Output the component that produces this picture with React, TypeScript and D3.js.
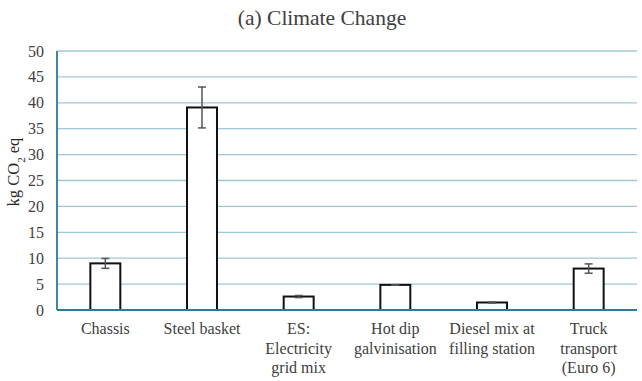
import React from "react";
import * as d3 from "d3";

const categories: string[][] = [
  ["Chassis"],
  ["Steel basket"],
  ["ES:", "Electricity", "grid mix"],
  ["Hot dip", "galvinisation"],
  ["Diesel mix at", "filling station"],
  ["Truck", "transport", "(Euro 6)"],
];
const values = [9.0, 39.1, 2.6, 4.85, 1.45, 8.0];
const errors = [0.95, 3.95, 0.2, 0.05, 0.1, 0.9];
const yTicks = [0, 5, 10, 15, 20, 25, 30, 35, 40, 45, 50];

const W = 642;
const H = 381;
const left = 57;
const right = 637;
const top = 51;
const bottom = 310;
const font = "Liberation Serif, Times New Roman, serif";

export default function App() {
  const x = d3
    .scaleBand<number>()
    .domain(categories.map((_, i) => i))
    .range([left, right])
    .paddingInner(0.69)
    .paddingOuter(0.345);
  const y = d3.scaleLinear().domain([0, 50]).range([bottom, top]);
  const ts = (size: number) => ({ fontFamily: font, fontSize: size + "px" });
  return (
    <svg
      width={W}
      height={H}
      style={{ position: "absolute", left: 0, top: 0, background: "#fff" }}
    >
      <text x={322} y={25} textAnchor="middle" style={ts(21.5)} fill="#404040">
        (a) Climate Change
      </text>
      {yTicks.map((t) =>
        t === 0 ? null : (
          <line
            key={t}
            x1={left}
            x2={right}
            y1={y(t)}
            y2={y(t)}
            stroke="#9fc8d6"
            strokeWidth={1.3}
          />
        )
      )}
      {yTicks.map((t) => (
        <text key={"l" + t} x={44} y={y(t) + 5.5} textAnchor="end" style={ts(16)} fill="#404040">
          {t}
        </text>
      ))}
      <text
        transform={`translate(19,172) rotate(-90)`}
        textAnchor="middle"
        style={ts(16.5)}
        fill="#262626"
      >
        kg CO<tspan baselineShift="sub" style={ts(11)}>2</tspan> eq
      </text>
      {values.map((v, i) => {
        const bx = x(i)!;
        const bw = x.bandwidth();
        const cx = bx + bw / 2;
        const e = errors[i];
        return (
          <g key={i}>
            <rect
              x={bx}
              y={y(v)}
              width={bw}
              height={bottom - y(v)}
              fill="#fff"
              stroke="#111"
              strokeWidth={2}
            />
            <line x1={cx} x2={cx} y1={y(v + e)} y2={y(v - e)} stroke="#555" strokeWidth={1.5} />
            <line x1={cx - 4} x2={cx + 4} y1={y(v + e)} y2={y(v + e)} stroke="#555" strokeWidth={1.5} />
            <line x1={cx - 4} x2={cx + 4} y1={y(v - e)} y2={y(v - e)} stroke="#555" strokeWidth={1.5} />
            {categories[i].map((line, j) => (
              <text key={j} x={cx} y={334 + j * 19.5} textAnchor="middle" style={ts(16)} fill="#404040">
                {line}
              </text>
            ))}
          </g>
        );
      })}
      <line x1={left} x2={right} y1={bottom} y2={bottom} stroke="#2b7a9c" strokeWidth={1.8} />
      <line x1={left} x2={left} y1={top} y2={bottom} stroke="#2b7a9c" strokeWidth={1.8} />
    </svg>
  );
}
